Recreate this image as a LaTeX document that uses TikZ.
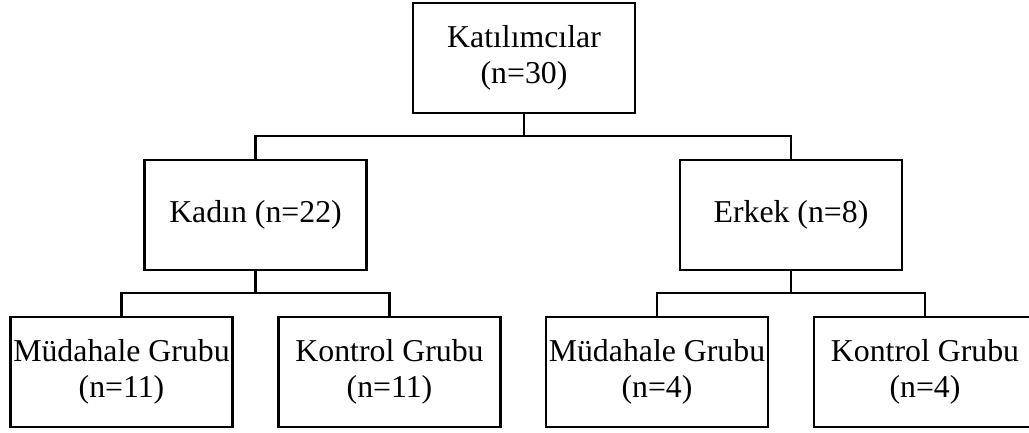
\documentclass[tikz,border=0pt]{standalone}
\usepackage{fontspec}
\setmainfont{Liberation Serif}
\begin{document}
\begin{tikzpicture}[x=1pt,y=-1pt,
  box/.style={draw=black,line width=2.6pt,minimum width=222pt,minimum height=110pt,align=center,inner sep=0pt,font=\fontsize{31.8}{35.5}\selectfont},
  conn/.style={draw=black,line width=2.6pt}]
\useasboundingbox (0,0) rectangle (1029,433);
\clip (0,0) rectangle (1029,433);
\node[box] (top) at (524,58) {Katılımcılar\\(n=30)};
\node[box] (kadin) at (255.5,215) {Kadın (n=22)};
\node[box] (erkek) at (791,215) {Erkek (n=8)};
\node[box] (m1) at (121.5,372) {Müdahale Grubu\\(n=11)};
\node[box] (k1) at (389.5,372) {Kontrol Grubu\\(n=11)};
\node[box] (m2) at (657,372) {Müdahale Grubu\\(n=4)};
\node[box] (k2) at (925,372) {Kontrol Grubu\\(n=4)};
\coordinate (j0) at (524,136);
\coordinate (j1) at (255.5,293);
\coordinate (j2) at (791,293);
\draw[conn] (top.south) -- (j0);
\draw[conn] (kadin.north) |- (j0) -| (erkek.north);
\draw[conn] (kadin.south) -- (j1);
\draw[conn] (m1.north) |- (j1) -| (k1.north);
\draw[conn] (erkek.south) -- (j2);
\draw[conn] (m2.north) |- (j2) -| (k2.north);
\end{tikzpicture}
\end{document}
